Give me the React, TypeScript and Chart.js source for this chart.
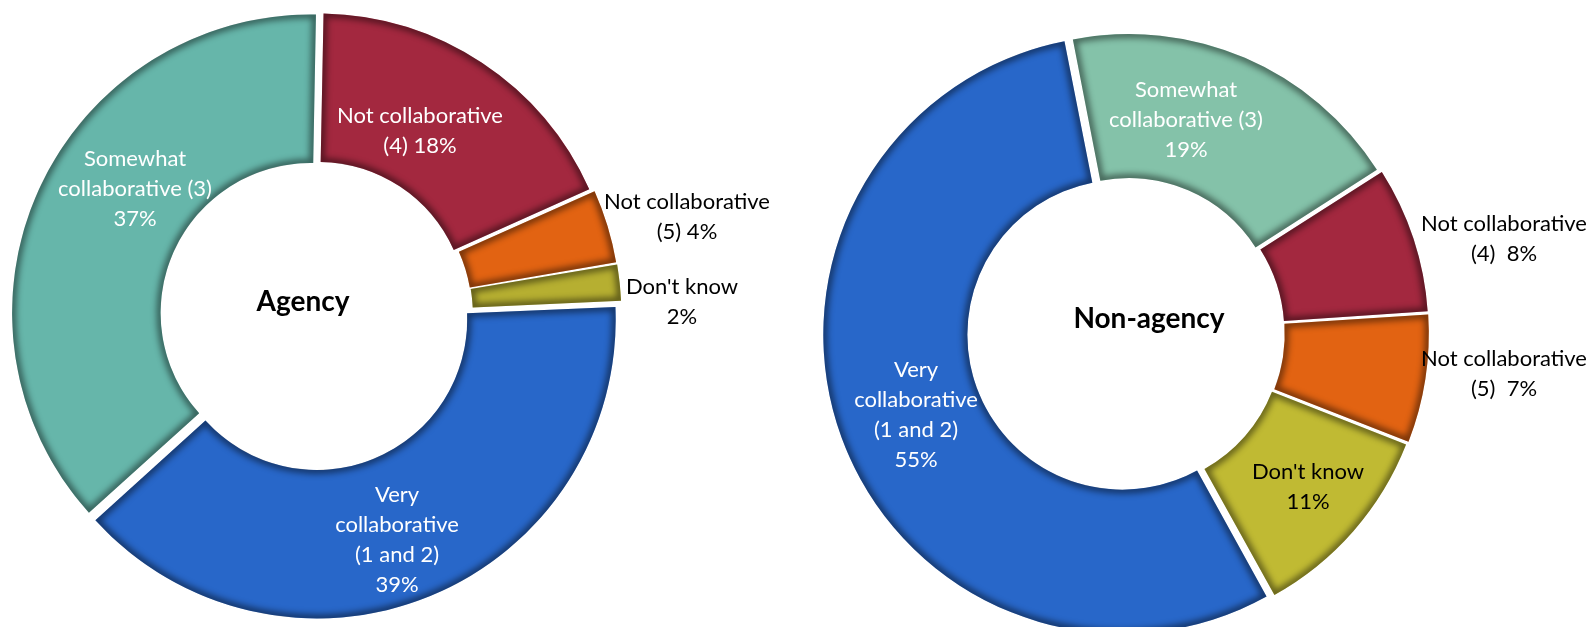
import React, { useEffect, useRef } from 'react';
import { Chart, registerables } from 'chart.js';

Chart.register(...registerables);

// ---- data ----
const categories = [
  'Very collaborative (1 and 2)',
  'Somewhat collaborative (3)',
  'Not collaborative (4)',
  'Not collaborative (5)',
  "Don't know",
];
const agencyValues = [39, 37, 18, 4, 2];
const nonAgencyValues = [55, 19, 8, 7, 11];

// label lines; {v} is replaced by the slice value
const agencyLabelLines = [
  ['Very', 'collaborative', '(1 and 2)', '{v}%'],
  ['Somewhat', 'collaborative (3)', '{v}%'],
  ['Not collaborative', '(4) {v}%'],
  ['Not collaborative', '(5) {v}%'],
  ["Don't know", '{v}%'],
];
const nonAgencyLabelLines = [
  ['Very', 'collaborative', '(1 and 2)', '{v}%'],
  ['Somewhat', 'collaborative (3)', '{v}%'],
  ['Not collaborative', '(4)  {v}%'],
  ['Not collaborative', '(5)  {v}%'],
  ["Don't know", '{v}%'],
];
const agencyTitle = 'Agency';
const nonAgencyTitle = 'Non-agency';

// ---- styles / positions ----
const agencyColors = ['#2867C9', '#66B6AA', '#A3283F', '#E26312', '#B6AF31'];
const nonAgencyColors = ['#2867C9', '#84C2A9', '#A3283F', '#E26312', '#C0BA33'];
const agencyTextColors = ['#ffffff', '#ffffff', '#ffffff', '#000000', '#000000'];
const nonAgencyTextColors = ['#ffffff', '#ffffff', '#000000', '#000000', '#000000'];
const agencyLabelOffsets = [[82, 225], [-180, -126], [105, -184], [372, -98], [367, -13]];
const nonAgencyLabelOffsets = [[-211, 82], [59, -213], [377, -94.5], [377, 40.5], [181, 154]];
const agencyTitleOffset = [-12, -13];
const nonAgencyTitleOffset = [22, -14];

const FONT = 'Lato, "Open Sans", sans-serif';
const LABEL_SIZE = 22;
const LINE_H = 30;

const shadePlugin = {
  id: 'innerShade',
  afterDatasetsDraw(chart: any) {
    const ctx = chart.ctx;
    const meta = chart.getDatasetMeta(0);
    meta.data.forEach((arc: any) => {
      const { x, y, startAngle, endAngle, innerRadius, outerRadius } = arc;
      const off = (arc.options.offset || 0) / 4;
      const alpha = endAngle - startAngle;
      const fix = 1 - Math.sin(Math.min(Math.PI, alpha));
      const ro = off * fix;
      const oR = outerRadius + ro;
      const iR = innerRadius + ro;
      const beta = Math.max(0.001, alpha * oR - ro / Math.PI) / oR;
      const ao = (alpha - beta) / 2;
      const s = startAngle + ao;
      const e = endAngle - ao;
      const half = (startAngle + endAngle) / 2;
      ctx.save();
      ctx.translate(Math.cos(half) * off, Math.sin(half) * off);
      ctx.beginPath();
      ctx.arc(x, y, oR, s, e);
      ctx.arc(x, y, iR, e, s, true);
      ctx.closePath();
      ctx.clip();
      ctx.filter = 'blur(3px)';
      ctx.lineWidth = 8;
      ctx.strokeStyle = 'rgba(0,0,0,0.48)';
      ctx.stroke();
      ctx.restore();
    });
  },
};

function makeLabelPlugin(cfg: any) {
  return {
    id: 'sliceLabels',
    afterDraw(chart: any) {
      const ctx = chart.ctx;
      const meta = chart.getDatasetMeta(0);
      const first = meta.data[0];
      if (!first) return;
      const cx = first.x;
      const cy = first.y;
      ctx.save();
      ctx.textAlign = 'center';
      ctx.textBaseline = 'middle';
      ctx.font = `${LABEL_SIZE}px ${FONT}`;
      meta.data.forEach((arc: any, i: number) => {
        const lines = cfg.lines[i].map((l: string) => l.replace('{v}', String(cfg.values[i])));
        const [dx, dy] = cfg.offsets[i];
        const lx = cx + dx;
        const ly0 = cy + dy - ((lines.length - 1) * LINE_H) / 2;
        ctx.fillStyle = cfg.textColors[i];
        lines.forEach((t: string, k: number) => ctx.fillText(t, lx, ly0 + k * LINE_H));
      });
      ctx.font = `bold 28px ${FONT}`;
      ctx.fillStyle = '#000000';
      ctx.fillText(cfg.title, cx + cfg.titleOffset[0], cy + cfg.titleOffset[1]);
      ctx.restore();
    },
  };
}

function Donut(props: any) {
  const ref = useRef<HTMLCanvasElement | null>(null);
  useEffect(() => {
    if (!ref.current) return;
    const c = props.cfg;
    const chart = new Chart(ref.current, {
      type: 'doughnut',
      data: {
        labels: categories,
        datasets: [
          {
            data: c.values,
            backgroundColor: c.colors,
            borderWidth: 0,
            offset: 20,
            clip: false,
            rotation: c.rotation,
          } as any,
        ],
      },
      options: {
        responsive: false,
        animation: false,
        rotation: c.rotation,
        radius: c.radius,
        cutout: c.cutout,
        layout: { padding: c.padding },
        plugins: { legend: { display: false }, tooltip: { enabled: false } },
        events: [],
      } as any,
      plugins: [shadePlugin, makeLabelPlugin(c)],
    });
    return () => chart.destroy();
  }, []);
  return (
    <canvas
      ref={ref}
      width={props.width}
      height={props.height}
      style={{ position: 'absolute', left: props.left, top: props.top, width: props.width, height: props.height }}
    />
  );
}

const agencyCfg = {
  values: agencyValues,
  colors: agencyColors,
  textColors: agencyTextColors,
  lines: agencyLabelLines,
  offsets: agencyLabelOffsets,
  title: agencyTitle,
  titleOffset: agencyTitleOffset,
  rotation: 87.5,
  radius: 297,
  cutout: '50%',
  padding: { left: 0, right: 170, top: 3, bottom: 0 },
};

const nonAgencyCfg = {
  values: nonAgencyValues,
  colors: nonAgencyColors,
  textColors: nonAgencyTextColors,
  lines: nonAgencyLabelLines,
  offsets: nonAgencyLabelOffsets,
  title: nonAgencyTitle,
  titleOffset: nonAgencyTitleOffset,
  rotation: 151,
  radius: 294,
  cutout: '51%',
  padding: { left: 0, right: 128, top: 39, bottom: 0 },
};

export default function App() {
  return (
    <div
      style={{
        position: 'absolute',
        left: 0,
        top: 0,
        width: 1591,
        height: 627,
        background: '#ffffff',
        overflow: 'hidden',
      }}
    >
      <Donut cfg={agencyCfg} left={0} top={0} width={800} height={627} />
      <Donut cfg={nonAgencyCfg} left={791} top={0} width={800} height={627} />
    </div>
  );
}
